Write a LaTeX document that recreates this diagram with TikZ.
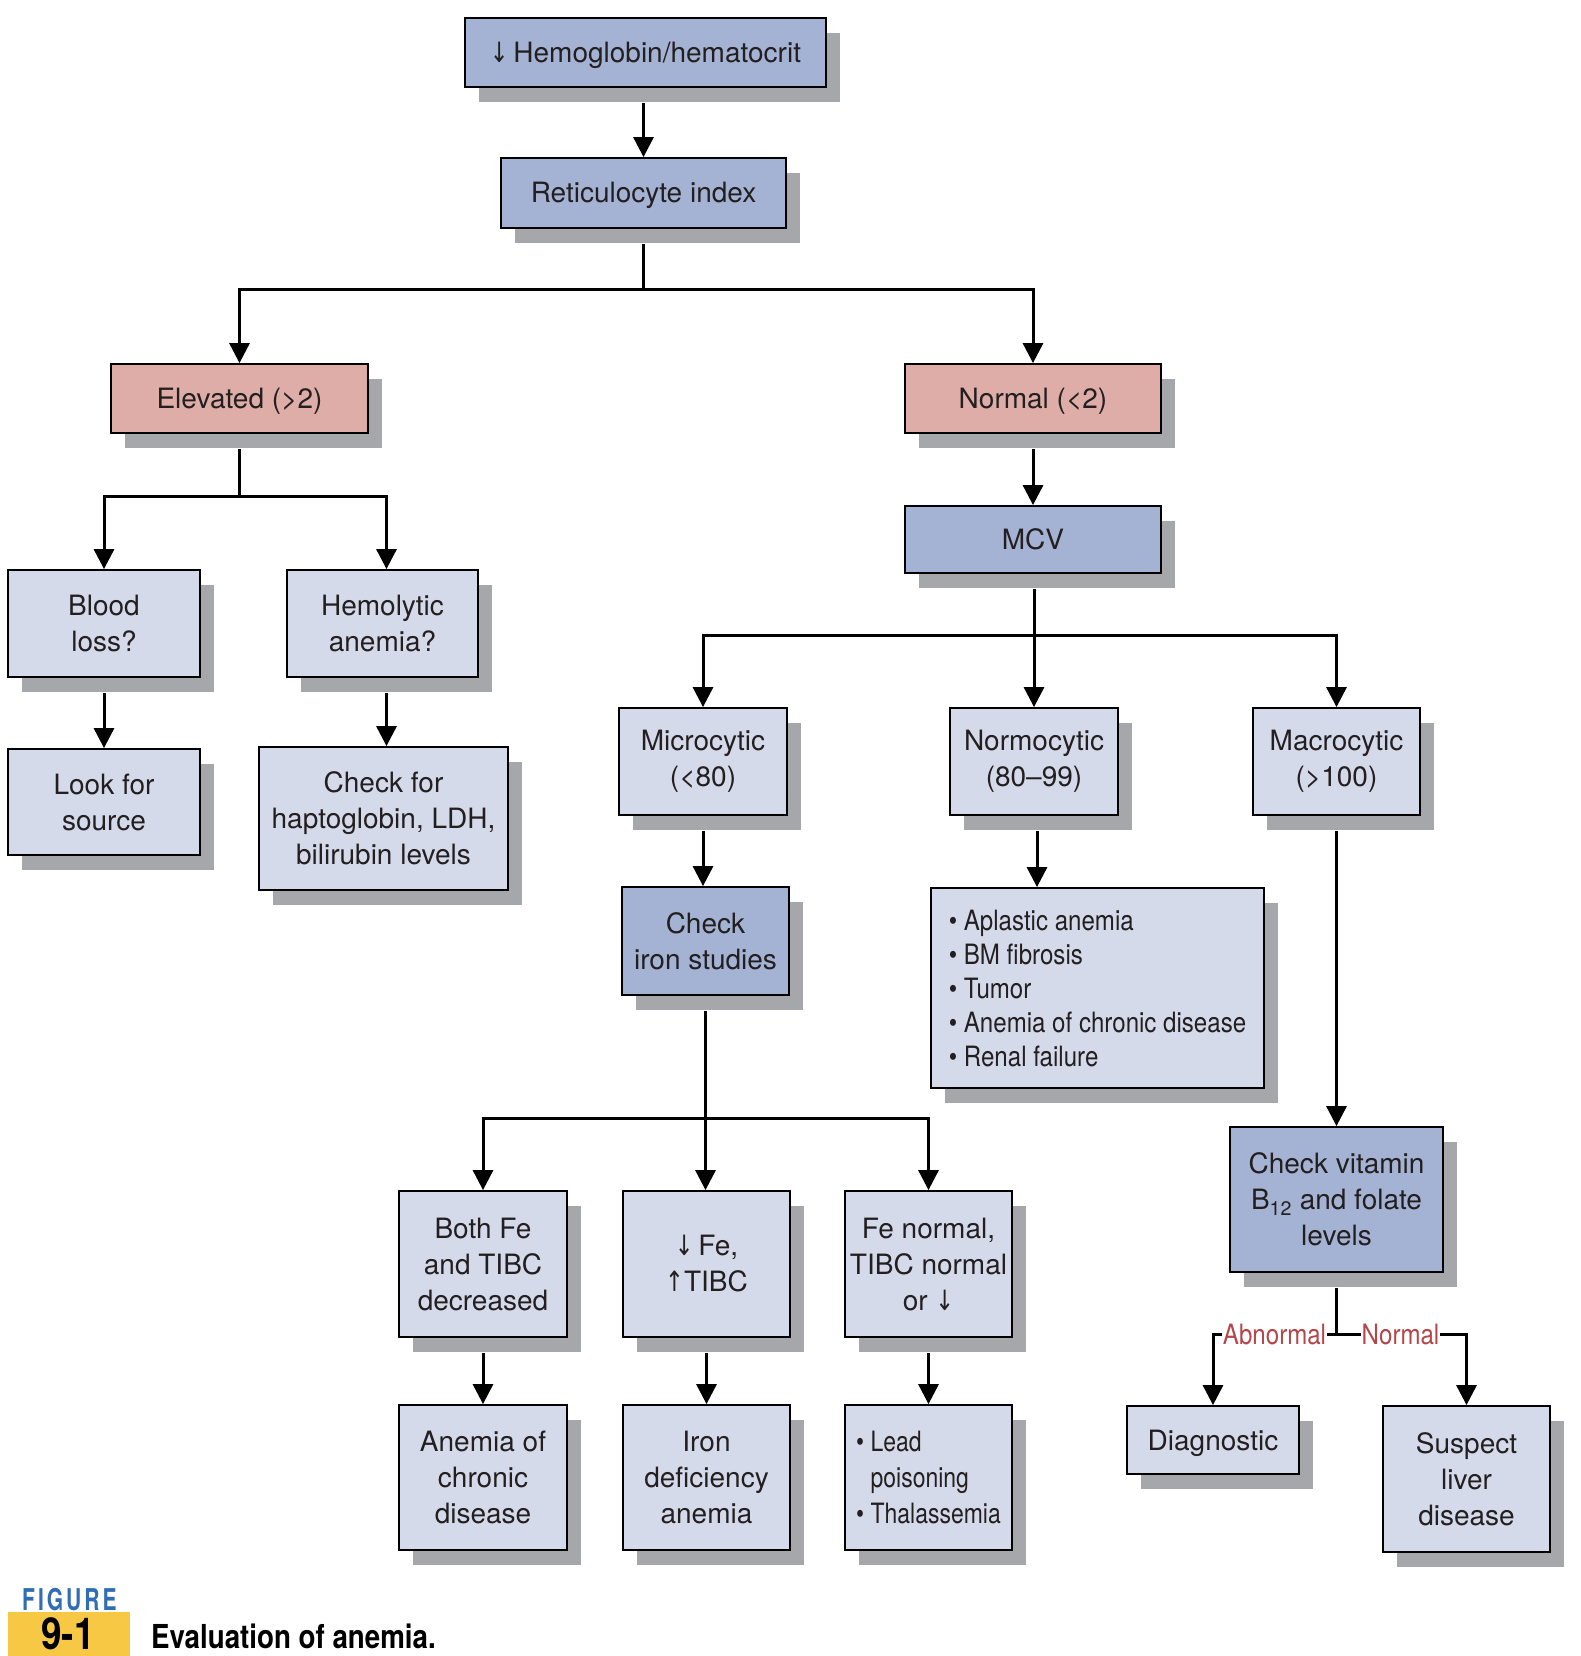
\documentclass[tikz,border=0pt]{standalone}
\usepackage{fontspec}
\setmainfont{TeX Gyre Heros}
\newfontfamily\condfont[FakeStretch=0.86]{TeX Gyre Heros}
\newfontfamily\narrowfont[FakeStretch=0.82]{TeX Gyre Heros}
\newfontfamily\figlabelfont[FakeStretch=0.7,LetterSpace=10]{TeX Gyre Heros}
\newfontfamily\captionfont[FakeStretch=0.84]{TeX Gyre Heros}
\newfontfamily\arrowglyphs[FakeStretch=0.8]{DejaVu Sans}
\newcommand\dnarr{{\arrowglyphs ↓}}
\newcommand\uparr{{\arrowglyphs ↑}}
\usetikzlibrary{shadows,arrows.meta}

\definecolor{darkbox}{HTML}{A4B3D3}
\definecolor{lightbox}{HTML}{D5DAEA}
\definecolor{pinkbox}{HTML}{DEADA7}
\definecolor{shgray}{HTML}{A6A7AA}
\definecolor{txt}{HTML}{231F20}
\definecolor{lblred}{HTML}{B4464A}
\definecolor{figblue}{HTML}{2F6DB5}
\definecolor{figyellow}{HTML}{F6C844}

\begin{document}
\begin{tikzpicture}[x=1pt,y=-1pt,
  box/.style={draw=black, line width=1.8pt, fill=lightbox, text=txt,
    align=center, inner sep=0pt,
    font=\fontsize{28}{36}\selectfont,
    drop shadow={shadow xshift=14pt, shadow yshift=-15pt, fill=shgray, opacity=1}},
  darkb/.style={box, fill=darkbox},
  pinkb/.style={box, fill=pinkbox},
  oneline/.style={text height=20pt, text depth=0pt},
  conn/.style={line width=3pt, -{Triangle[length=20pt,width=20pt]}},
  trunk/.style={line width=3pt},
  lbl/.style={fill=white, text=lblred, inner sep=1pt,
    font=\condfont\fontsize{28}{30}\selectfont}
]
\useasboundingbox (0,0) rectangle (1580,1656);

% ---- boxes ----
\node[darkb, oneline, minimum width=361pt, minimum height=69pt] (hb) at (645.5,52.5) {\dnarr\,Hemoglobin/hematocrit};
\node[darkb, oneline, minimum width=285pt, minimum height=70pt] (reti) at (643.5,193) {Reticulocyte index};

\node[pinkb, oneline, minimum width=257pt, minimum height=69pt] (elev) at (239.5,398.5) {Elevated (>2)};
\node[pinkb, oneline, minimum width=256pt, minimum height=69pt] (norm) at (1033,398.5) {Normal (<2)};

\node[darkb, oneline, minimum width=256pt, minimum height=67pt] (mcv) at (1033,539.5) {MCV};

\node[box, minimum width=192pt, minimum height=107pt] (blood) at (104,623.5) {Blood\\loss?};
\node[box, minimum width=191pt, minimum height=107pt] (hemo) at (382.5,623.5) {Hemolytic\\anemia?};
\node[box, minimum width=192pt, minimum height=106pt] (look) at (104,802) {Look for\\source};
\node[box, minimum width=249pt, minimum height=143pt] (hapto) at (383.5,818.5) {Check for\\haptoglobin, LDH,\\bilirubin levels};

\node[box, minimum width=168pt, minimum height=107pt] (micro) at (703,761.5) {Microcytic\\(<80)};
\node[box, minimum width=168pt, minimum height=107pt] (normo) at (1034,761.5) {Normocytic\\(80--99)};
\node[box, minimum width=167pt, minimum height=107pt] (macro) at (1336.5,761.5) {Macrocytic\\(>100)};

\node[darkb, minimum width=167pt, minimum height=108pt] (iron) at (705.5,941) {Check\\iron studies};
\node[box, minimum width=333pt, minimum height=200pt, align=left,
      font=\condfont\fontsize{28}{34}\selectfont] (list) at (1097.5,988)
  {• Aplastic anemia\\• BM fibrosis\\• Tumor\\• Anemia of chronic disease\\• Renal failure};
\node[darkb, minimum width=213pt, minimum height=145pt] (vit) at (1336.5,1199.5) {Check vitamin\\B\textsubscript{12} and folate\\levels};

\node[box, minimum width=168pt, minimum height=146pt] (both) at (483,1264) {Both Fe\\and TIBC\\decreased};
\node[box, minimum width=167pt, minimum height=146pt] (fe) at (706.5,1264) {\dnarr\,Fe,\\\uparr TIBC};
\node[box, minimum width=167pt, minimum height=146pt] (fenorm) at (928.5,1264) {Fe normal,\\TIBC normal\\or \dnarr};

\node[box, minimum width=168pt, minimum height=145pt] (acd) at (483,1477.5) {Anemia of\\chronic\\disease};
\node[box, minimum width=167pt, minimum height=145pt] (ida) at (706.5,1477.5) {Iron\\deficiency\\anemia};
\node[box, minimum width=167pt, minimum height=145pt, align=left,
      font=\narrowfont\fontsize{28}{36}\selectfont] (lead) at (928.5,1477.5)
  {• Lead\\\hphantom{• }poisoning\\• Thalassemia};

\node[box, oneline, minimum width=172pt, minimum height=68pt] (diag) at (1213,1440) {Diagnostic};
\node[box, minimum width=167pt, minimum height=146pt] (liver) at (1466.5,1479) {Suspect\\liver\\disease};

% ---- connectors ----
\draw[conn] ([yshift=-15pt]hb.south -| reti.north) -- (reti.north);

\draw[trunk] ([yshift=-15pt]reti.south) -- ++(0,46) coordinate (r1);
\draw[conn] (r1) -| (elev.north);
\draw[conn] (r1) -| (norm.north);

\draw[trunk] ([yshift=-15pt]elev.south) -- ++(0,48) coordinate (e1);
\draw[conn] (e1) -| (blood.north);
\draw[conn] (e1) -| ([xshift=4pt]hemo.north);

\draw[conn] ([yshift=-15pt]blood.south) -- (look.north);
\draw[conn] ([xshift=4pt,yshift=-15pt]hemo.south) -- ([xshift=4pt]hemo.south |- hapto.north);

\draw[conn] ([yshift=-15pt]norm.south) -- (mcv.north);

\draw[conn] ([yshift=-15pt]normo.north |- mcv.south) -- (normo.north);
\coordinate (m1) at (1034,635);
\draw[conn] (m1) -| (micro.north);
\draw[conn] (m1) -| (macro.north);

\draw[conn] ([yshift=-15pt]micro.south) -- (micro.south |- iron.north);
\draw[conn] ([xshift=3pt,yshift=-15pt]normo.south) -- ([xshift=3pt]normo.south |- list.north);
\draw[conn] ([yshift=-15pt]macro.south) -- (vit.north);

\draw[conn] ([yshift=-15pt]iron.south) -- (iron.south |- fe.north);
\coordinate (i1) at (705.5,1118);
\draw[conn] (i1) -| (both.north);
\draw[conn] (i1) -| (fenorm.north);

\draw[conn] ([yshift=-15pt]both.south) -- (acd.north);
\draw[conn] ([yshift=-15pt]fe.south) -- (ida.north);
\draw[conn] ([yshift=-15pt]fenorm.south) -- (lead.north);

\draw[trunk] ([yshift=-15pt]vit.south) -- ++(0,47) coordinate (v1);
\draw[conn] (v1) -| (diag.north);
\draw[conn] (v1) -| (liver.north);
\node[lbl] (abn) at (1274.5,1334) {Abnormal};
\node[lbl] (nml) at (1400.5,1334) {Normal};

% ---- figure caption ----
\node[text=figblue, inner sep=0pt, anchor=west,
      font=\figlabelfont\bfseries\fontsize{30}{30}\selectfont] (figword) at (22,1600) {FIGURE};
\node[fill=figyellow, inner sep=0pt, minimum width=122pt, minimum height=44pt] (fignum) at (69,1634) {};
\node[inner sep=0pt, text height=32pt, text depth=0pt,
      font=\captionfont\bfseries\fontsize{44}{44}\selectfont] (fignumtext) at (68,1633) {9-1};
\node[inner sep=0pt, anchor=west,
      font=\captionfont\bfseries\fontsize{33}{33}\selectfont] (figtitle) at (151,1636) {Evaluation of anemia.};
\end{tikzpicture}
\end{document}
